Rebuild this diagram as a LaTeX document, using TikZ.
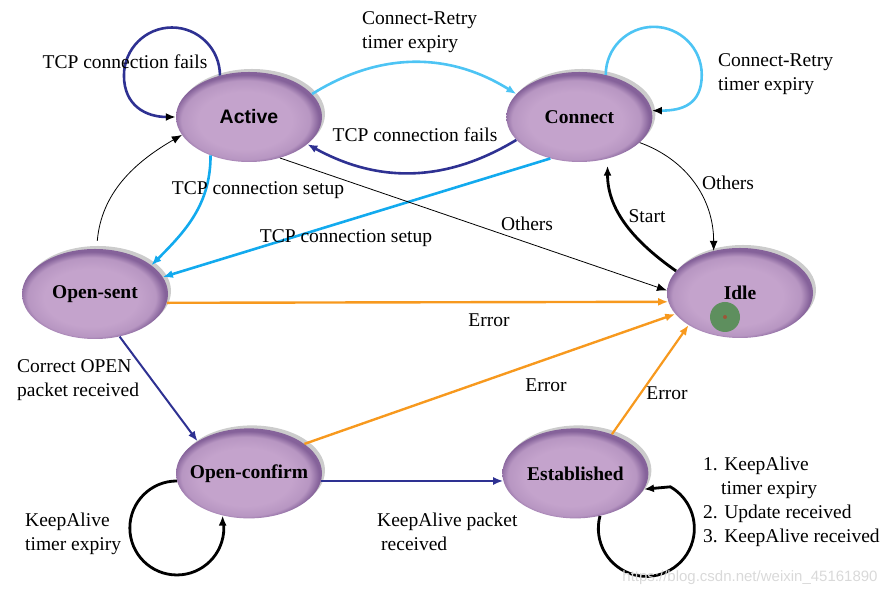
\documentclass[tikz,border=0pt]{standalone}
\usepackage{fontspec}
\setmainfont{Liberation Serif}
\newfontfamily\arialfam{Liberation Sans}
\usetikzlibrary{positioning,shapes.geometric,arrows.meta,shadows}
\definecolor{stlight}{HTML}{C4A3CC}
\definecolor{stdark}{HTML}{85629A}
\definecolor{navy}{HTML}{2E3192}
\definecolor{skyA}{HTML}{4DC4F4}
\definecolor{skyB}{HTML}{12AAEE}
\definecolor{errorange}{HTML}{F7991E}
\definecolor{cursorgreen}{HTML}{5E8F5E}
\pgfdeclareradialshading{stateshade}{\pgfpoint{-2bp}{-3bp}}{color(0bp)=(stlight); color(16bp)=(stlight); color(22bp)=(stlight!80!stdark); color(25bp)=(stdark); color(50bp)=(stdark)}
\def\lblfont{\fontsize{19.5}{24}\selectfont}
\newcommand\stname[1]{\makebox[0pt]{#1}}

\begin{document}
\begin{tikzpicture}[x=1pt,y=1pt,
    state/.style={ellipse, minimum width=146pt, minimum height=90pt, inner sep=0pt,
      shade, shading=stateshade,
      drop shadow={opacity=0.4, shadow xshift=3pt, shadow yshift=3pt, fill=gray},
      font=\lblfont\bfseries},
    lbl/.style={font=\lblfont, inner sep=0pt, align=left},
    tip/.style={-{Latex[length=10pt,width=8pt]}},
    blacktip/.style={-{Latex[black,length=10pt,width=8pt]}}]
    \useasboundingbox (0,0) rectangle (895,596);
    \node[state] (Active) at (249,479) {\stname{\arialfam\bfseries Active}};
    \node[state, right=184pt of Active] (Connect) {\stname{Connect}};
    \node[state] (Idle) at (740,303) {\stname{Idle}};
    \node[state] (Open-sent) at (95,302) {\stname{Open-sent}};
    \node[state, below=266pt of Active] (Open-confirm) {\stname{Open-confirm}};
    \node[state, right=180pt of Open-confirm] (Established) {\stname{Established}};
    % pointer mark on Idle
    \fill[cursorgreen] (725,279) circle (15);
    \fill[red!40!cursorgreen] (725,279) circle (2);
    \draw[navy, line width=2.6pt, blacktip] (Active.125) arc[start angle=0, end angle=180, radius=48]
      .. controls +(0,-30) and +(-30,0) .. (Active.180);
    \node[lbl] at (125,534) {TCP connection fails};
    \draw[skyA, line width=2.6pt, tip] (Active.20) to[bend left=32] (Connect.160);
    \node[lbl, anchor=west] at (362,564) {Connect-Retry\\timer expiry};
    \draw[navy, line width=2.6pt, tip] (Connect.200) to[bend left=30] (Active.335);
    \node[lbl] at (415,461) {TCP connection fails};
    \draw[skyA, line width=2.6pt, blacktip] (Connect.58) arc[start angle=180, end angle=0, radius=48]
      .. controls +(0,-30) and +(30,0) .. (Connect.5);
    \node[lbl, anchor=west] at (718,522) {Connect-Retry\\timer expiry};
    \draw[skyB, line width=2.6pt, tip] (Active.225) to[out=-90,in=45] (Open-sent.27);
    \node[lbl] at (258,406) {TCP connection setup};
    \draw[skyB, line width=2.6pt, tip] (Connect.235) -- (Open-sent.14);
    \node[lbl] at (346,358) {TCP connection setup};
    \draw[line width=0.8pt, tip, shorten <=8pt] (Open-sent.88) to[out=85,in=210] (Active.195);
    \draw[line width=0.8pt, tip] (Active.307) -- (Idle.178);
    \node[lbl] at (527,372) {Others};
    \draw[line width=0.8pt, tip] (Connect.337) to[out=-20,in=90] (Idle.122);
    \node[lbl] at (728,413) {Others};
    \draw[line width=2.8pt, tip, shorten >=7pt] (Idle.161) to[out=145,in=-90] (Connect.304);
    \node[lbl] at (647,380) {Start};
    \draw[errorange, line width=2.4pt, tip] (Open-sent.353) -- (Idle.187);
    \node[lbl] at (489,276) {Error};
    \draw[errorange, line width=2.4pt, tip] (Open-confirm.28) -- (Idle.198);
    \node[lbl] at (546,211) {Error};
    \draw[errorange, line width=2.2pt, tip] (Established.47) -- (Idle.212);
    \node[lbl] at (667,203) {Error};
    \draw[navy, line width=2pt, tip] (Open-sent.300) -- (Open-confirm.148);
    \node[lbl, anchor=west] at (17,216) {Correct OPEN\\packet received};
    \draw[navy, line width=2.6pt, tip] (Open-confirm.354) -- (Established.186);
    \node[lbl, anchor=west] at (377,64) {KeepAlive packet\\\hspace{4pt}received};
    \draw[line width=2.8pt, tip] (Open-confirm.186) arc[start angle=90, end angle=360, radius=47]
      to[out=90,in=-90] (Open-confirm.238);
    \node[lbl, anchor=west] at (25,62) {KeepAlive\\timer expiry};
    \draw[line width=2.8pt, tip] (Established.300) arc[start angle=165, end angle=420, radius=48]
      -- (Established.347);
    \node[lbl, anchor=west] at (703,94) {1. KeepAlive\\\hspace{18pt}timer expiry\\2. Update received\\3. KeepAlive received};
    % watermark
    \node[font=\arialfam\fontsize{15}{15}\selectfont, text=gray!30] at (750,18) {https://blog.csdn.net/weixin\_45161890};
\end{tikzpicture}
\end{document}
